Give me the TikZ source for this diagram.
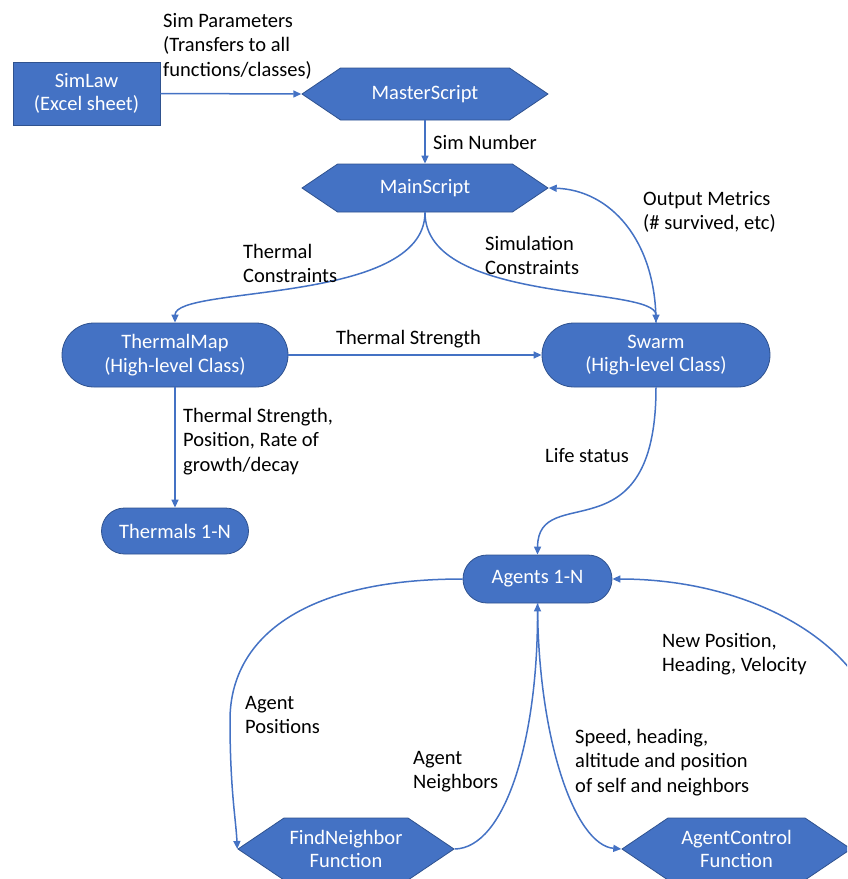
\documentclass[tikz,border=0pt]{standalone}
\usepackage{fontspec}
\setmainfont{Carlito}
\usetikzlibrary{arrows.meta,shapes.symbols}
\definecolor{boxblue}{HTML}{4472C4}
\definecolor{edgeblue}{HTML}{2F528F}

\begin{document}
\begin{tikzpicture}[x=1pt,y=-1pt,>={Triangle[length=8pt,width=7pt]},
  blockbox/.style={draw=edgeblue,line width=0.8pt,fill=boxblue,text=white,align=center,inner sep=0pt,font=\fontsize{20.5}{23.5}\selectfont},
  rectbox/.style={blockbox,rectangle},
  roundbox/.style={blockbox,rectangle,rounded corners=#1},
  hexbox/.style={blockbox,signal,signal to=west and east,signal pointer angle=68},
  flow/.style={->,draw=boxblue,line width=1.5pt},
  lbl/.style={anchor=base west,align=left,inner sep=0pt,font=\fontsize{20.5}{24.5}\selectfont}]

\useasboundingbox (0,0) rectangle (847,879);
\clip (0,0) rectangle (847,879);

\node[rectbox,minimum width=147pt,minimum height=63pt] (simlaw) at (86.5,93.5) {SimLaw\\(Excel sheet)};
\node[hexbox,minimum width=246pt,minimum height=52pt] (master) at (425,94) {MasterScript};
\node[hexbox,minimum width=246pt,minimum height=48pt] (main) at (425,188) {MainScript};
\node[roundbox=32pt,minimum width=226pt,minimum height=64pt] (thermalmap) at (175,355) {ThermalMap\\(High-level Class)};
\node[roundbox=32pt,minimum width=228pt,minimum height=64pt] (swarm) at (656,355) {Swarm\\(High-level Class)};
\node[roundbox=23pt,minimum width=147pt,minimum height=46pt] (thermals) at (175,531) {Thermals 1-N};
\node[roundbox=24pt,minimum width=149pt,minimum height=48pt] (agents) at (537.5,579) {Agents 1-N};
\node[hexbox,minimum width=216pt,minimum height=62pt] (findnb) at (346,849) {FindNeighbor\\Function};
\node[hexbox,minimum width=229pt,minimum height=62pt] (agentctl) at (736.5,849) {AgentControl\\Function};

\draw[flow] (simlaw.east) -- (master.west);
\draw[flow] (master.south) -- (main.north);
\draw[flow] (main.south) .. controls (425,305) and (175,285) .. (thermalmap.north);
\draw[flow] (main.south) .. controls (425,305) and (656,285) .. (swarm.north);
\draw[flow] (swarm.north) .. controls (656,240) and (610,190) .. (main.east);
\draw[flow] (thermalmap.east) -- (swarm.west);
\draw[flow] (thermalmap.south) -- (thermals.north);
\draw[flow] (swarm.south) .. controls (656,560) and (538,480) .. (agents.north);
\draw[flow] (agents.west) .. controls (300,579) and (230,640) .. (230,720)
  .. controls (230,790) and (236,820) .. (findnb.west);
\draw[flow] (findnb.east) .. controls (505,848) and (538,740) .. (agents.south);
\draw[flow] (agents.south) .. controls (538,740) and (575,845) .. (agentctl.west);
\draw[flow] (agentctl.east) .. controls (950,700) and (800,579) .. (agents.east);

\node[lbl] (lblsimparam) at (163,76) {Sim Parameters\\(Transfers to all\\functions/classes)};
\node[lbl] (lblsimnum) at (433,149) {Sim Number};
\node[lbl] (lblthermcon) at (243,282.5) {Thermal\\Constraints};
\node[lbl] (lblsimcon) at (485,274.5) {Simulation\\Constraints};
\node[lbl] (lbloutput) at (643,229.5) {Output Metrics\\(\# survived, etc)};
\node[lbl] (lblstrength) at (336,344) {Thermal Strength};
\node[lbl] (lblthermdata) at (183,471) {Thermal Strength,\\Position, Rate of\\growth/decay};
\node[lbl] (lbllife) at (545,462) {Life status};
\node[lbl] (lblnewpos) at (662,671.5) {New Position,\\Heading, Velocity};
\node[lbl] (lblpositions) at (245,733.5) {Agent\\Positions};
\node[lbl] (lblneighbors) at (413,788.5) {Agent\\Neighbors};
\node[lbl] (lblspeed) at (575,792) {Speed, heading,\\altitude and position\\of self and neighbors};

\end{tikzpicture}
\end{document}
